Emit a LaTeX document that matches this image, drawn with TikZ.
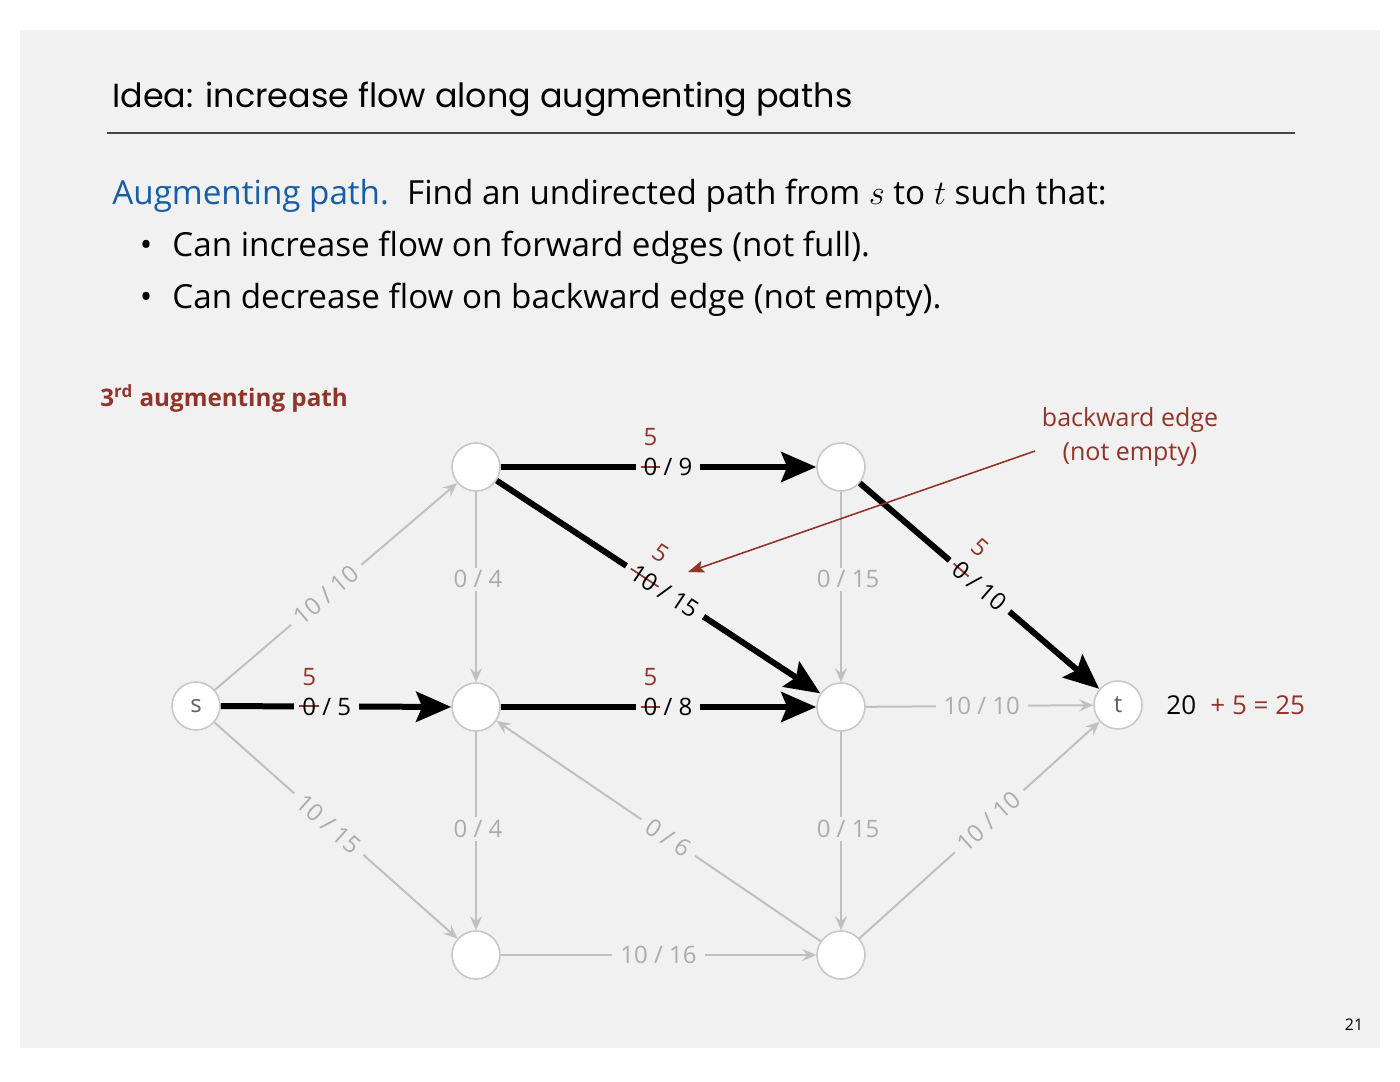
\documentclass[tikz,border=0pt]{standalone}
\usepackage{fontspec}
\setmainfont{Open Sans}
\newfontfamily\titlefont{Poppins}
\usetikzlibrary{arrows.meta}
\definecolor{slidebg}{RGB}{241,241,241}
\definecolor{augred}{RGB}{145,52,42}
\definecolor{augblue}{RGB}{22,94,166}
\definecolor{edgegray}{RGB}{192,192,192}
\definecolor{lblgray}{RGB}{172,172,172}
\definecolor{nodegray}{RGB}{200,200,200}
\definecolor{rulegray}{RGB}{70,70,70}
\newsavebox\stkbox
\newcommand\stk[2]{\sbox\stkbox{#1}%
  \rlap{\hbox to \wd\stkbox{\hss\smash{\raisebox{1.25em}{\color{augred}#2}}\hss}}%
  \rlap{\hbox to \wd\stkbox{\hss{\color{augred}\rule[0.33em]{\dimexpr\wd\stkbox+0.25em\relax}{0.07em}}\hss}}%
  \usebox\stkbox}
\tikzset{
  vtx/.style={circle,draw=nodegray,line width=0.8pt,fill=white,minimum size=24pt,inner sep=0pt,text=black!62,font=\fontsize{12}{12}\selectfont},
  flow/.style={line width=3pt,-{Stealth[length=17.5pt,width=15pt,inset=3pt]}},
  idle/.style={draw=edgegray,line width=1pt,-{Stealth[length=7pt,width=6pt,inset=2.5pt]}},
  elbl/.style={fill=slidebg,inner xsep=4pt,inner ysep=1.5pt,font=\fontsize{12}{14}\selectfont},
  glbl/.style={elbl,text=lblgray},
  txt/.style={anchor=base west,inner sep=0pt},
  bodyfont/.style={font=\fontsize{16.6}{20}\selectfont}
}
\begin{document}
\begin{tikzpicture}[x=0.5pt,y=-0.5pt]
\useasboundingbox (0,0) rectangle (1400,1081);
\fill[white] (0,0) rectangle (1400,1081);
\fill[slidebg] (20,30) rectangle (1380,1048);
% title
\node[txt,font=\titlefont\fontsize{16.7}{20}\selectfont] (title) at (112,107) {Idea: increase flow along augmenting paths};
\draw[rulegray,line width=0.7pt] (107,133) -- (1295,133);
% body
\node[txt,bodyfont] (def) at (112,204) {\textcolor{augblue}{Augmenting path.}\hspace{0.55em}Find an undirected path from $s$ to $t$ such that:};
\node[anchor=base,inner sep=0pt,bodyfont] (b1) at (146,256) {\textbullet};
\node[txt,bodyfont] (l1) at (172,256) {Can increase flow on forward edges (not full).};
\node[anchor=base,inner sep=0pt,bodyfont] (b2) at (146,308) {\textbullet};
\node[txt,bodyfont] (l2) at (172,308) {Can decrease flow on backward edge (not empty).};
\node[txt,text=augred,font=\bfseries\fontsize{12.1}{14}\selectfont] (cap) at (100,406) {3\textsuperscript{rd} augmenting path};
% vertices
\node[vtx] (s) at (196,706) {s};
\node[vtx] (A) at (476,467) {};
\node[vtx] (B) at (841,467) {};
\node[vtx] (C) at (476,707) {};
\node[vtx] (D) at (841,707) {};
\node[vtx] (t) at (1118,705) {t};
\node[vtx] (E) at (476,955) {};
\node[vtx] (F) at (841,955) {};
% idle edges
\draw[idle] (s) -- node[glbl,sloped,pos=.46]{10 / 10} (A);
\draw[idle] (s) -- node[glbl,sloped,pos=.47]{10 / 15} (E);
\draw[idle] (A) -- node[glbl,pos=.46,xshift=1pt]{0 / 4} (C);
\draw[idle] (B) -- node[glbl,pos=.46,xshift=3.5pt]{0 / 15} (D);
\draw[idle] (C) -- node[glbl,pos=.49,xshift=1pt]{0 / 4} (E);
\draw[idle] (D) -- node[glbl,pos=.49,xshift=3.5pt]{0 / 15} (F);
\draw[idle] (D) -- node[glbl,pos=.51]{10 / 10} (t);
\draw[idle] (E) -- node[glbl,pos=.5]{10 / 16} (F);
\draw[idle] (F) -- node[glbl,sloped,pos=.47]{0 / 6} (C);
\draw[idle] (F) -- node[glbl,sloped,pos=.54]{10 / 10} (t);
% augmenting path edges
\draw[flow] (s) -- node[elbl,pos=.46]{\stk{0}{5} / 5} (C);
\draw[flow] (C) -- node[elbl,pos=.53]{\stk{0}{5} / 8} (D);
\draw[flow] (A) -- node[elbl,pos=.53]{\stk{0}{5} / 9} (B);
\draw[flow] (A) -- node[elbl,sloped,pos=.52]{\stk{10}{5} / 15} (D);
\draw[flow] (B) -- node[elbl,sloped,pos=.5]{\stk{0}{5} / 10} (t);
% result
\node[txt,font=\fontsize{13}{15}\selectfont] (res) at (1166,714) {20\hspace{0.55em}\textcolor{augred}{+ 5 = 25}};
% annotation
\node[text=augred,font=\fontsize{12.5}{17}\selectfont,align=center] (bk) at (1130,437) {backward edge\\(not empty)};
\coordinate (bs) at (1035,451);
\coordinate (be) at (688,572);
\draw[augred,line width=0.8pt,-{Stealth[length=8pt,width=6pt,inset=1.5pt]}] (bs) -- (be);
% page number
\node[font=\fontsize{8}{9}\selectfont] (pg) at (1354,1025) {21};
\end{tikzpicture}
\end{document}
